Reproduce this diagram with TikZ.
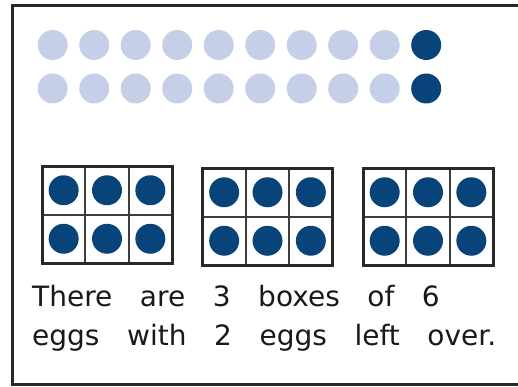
\documentclass[tikz,border=0pt]{standalone}
\usepackage{fontspec}
\setmainfont{DejaVu Sans}[WordSpace={3.1}]
\definecolor{lightdot}{RGB}{197,208,232}
\definecolor{darkdot}{RGB}{8,68,122}
\definecolor{framecol}{RGB}{40,40,40}
\tikzset{
  lightball/.style={circle,fill=lightdot,inner sep=0pt,minimum size=30pt},
  darkball/.style={circle,fill=darkdot,inner sep=0pt,minimum size=30pt},
  eggbox/.style={draw=framecol,line width=3pt},
  eggline/.style={draw=framecol!90,line width=2pt},
  caption/.style={anchor=base west,inner sep=0pt,font=\fontsize{28}{40}\selectfont,text=black!90}
}
\begin{document}
\begin{tikzpicture}[x=1pt,y=1pt]
\useasboundingbox (0,0) rectangle (518,386);
% outer frame (right side beyond the picture)
\draw[framecol,line width=3pt] (530,380) -- (12,380) -- (12,2) -- (530,2);
% ten-frame rows
\foreach \i in {0,...,8}{
  \node[lightball] (t\i) at ({52.7+\i*41.5},341) {};
  \node[lightball] (b\i) at ({52.7+\i*41.5},297.5) {};
}
\node[darkball] (t9) at ({52.7+9*41.5},341) {};
\node[darkball] (b9) at ({52.7+9*41.5},297.5) {};
% egg boxes
\foreach \bx/\by [count=\k] in {42/123, 202.5/121, 363/121}{
  \foreach \c in {0,1,2}{
    \foreach \r in {0,1}{
      \node[darkball] (e\k\c\r) at ({\bx+21.67+\c*43.33},{\by+24.25+\r*48.5}) {};
    }
  }
  \draw[eggline] ({\bx+43.33},\by) -- ({\bx+43.33},{\by+97});
  \draw[eggline] ({\bx+86.67},\by) -- ({\bx+86.67},{\by+97});
  \draw[eggline] (\bx,{\by+48.5}) -- ({\bx+130},{\by+48.5});
  \draw[eggbox] (\bx,\by) rectangle ({\bx+130},{\by+97});
}
% caption
\node[caption] (l1) at (32,80) {There are 3 boxes of 6};
\node[caption] (l2) at (32,41) {eggs with 2 eggs left over.};
\end{tikzpicture}
\end{document}
